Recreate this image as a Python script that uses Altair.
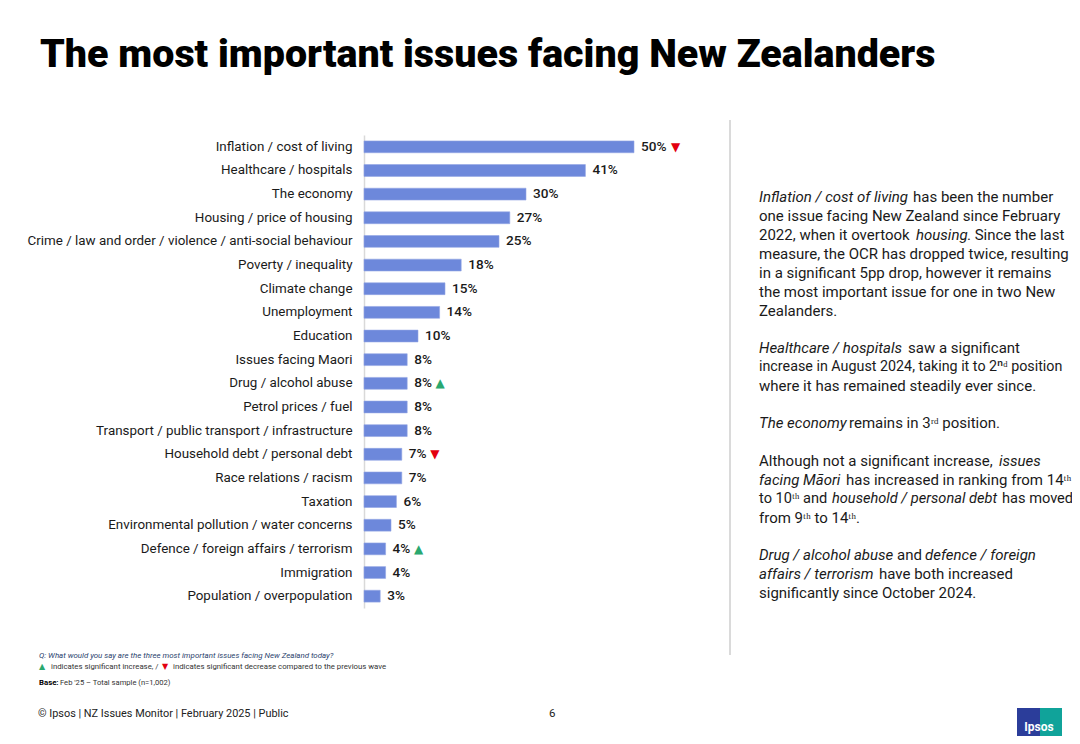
import altair as alt
import pandas as pd

# ---------------- data ----------------
issues = [
    "Inflation / cost of living",
    "Healthcare / hospitals",
    "The economy",
    "Housing / price of housing",
    "Crime / law and order / violence / anti-social behaviour",
    "Poverty / inequality",
    "Climate change",
    "Unemployment",
    "Education",
    "Issues facing Maori",
    "Drug / alcohol abuse",
    "Petrol prices / fuel",
    "Transport / public transport / infrastructure",
    "Household debt / personal debt",
    "Race relations / racism",
    "Taxation",
    "Environmental pollution / water concerns",
    "Defence / foreign affairs / terrorism",
    "Immigration",
    "Population / overpopulation",
]
values = [50, 41, 30, 27, 25, 18, 15, 14, 10, 8, 8, 8, 8, 7, 7, 6, 5, 4, 4, 3]
changes = ["down", "", "", "", "", "", "", "", "", "", "up", "", "", "down",
           "", "", "", "up", "", ""]

df = pd.DataFrame({"issue": issues, "value": values, "change": changes})
df["label"] = df["value"].astype(str) + "%"

# ---------------- style ----------------
F = "Roboto"
BAR = "#6d88db"
RED = "#e3000f"
GREEN = "#2aa86f"
TXT = "#1a1a1a"
OX, OY = 364, 135  # page position of plot origin

base = alt.Chart(df).encode(
    y=alt.Y(
        "issue:N", sort=issues,
        scale=alt.Scale(paddingInner=0.5, paddingOuter=0.25),
        axis=alt.Axis(title=None, ticks=False, labelPadding=12, labelFontSize=13.4,
                      labelColor=TXT, labelFont=F, domainColor="#d9d9d9",
                      domainWidth=1.5, labelLimit=500, grid=False),
    ),
    x=alt.X("value:Q", scale=alt.Scale(domain=[0, 50], nice=False), axis=None),
)

bars = base.mark_bar(color=BAR, stroke="#93a6e4", strokeWidth=0.6)
labels = base.mark_text(align="left", dx=7, fontSize=13.6, font=F, fontWeight=500,
                        color=TXT).encode(text="label:N")
tri_dx = alt.ExprRef(expr="length(datum.label) * 8.5 + 16")
tri_up = base.transform_filter("datum.change == 'up'").mark_text(
    text="▲", color=GREEN, fontSize=12, align="center", dx=tri_dx, font="DejaVu Sans")
tri_down = base.transform_filter("datum.change == 'down'").mark_text(
    text="▼", color=RED, fontSize=12, align="center", dx=tri_dx, font="DejaVu Sans")

one = alt.Data(values=[{}])


def txt(s, X, Y, size=14, italic=False, weight="normal", color=TXT, font=F,
        align="left", baseline="middle"):
    kw = dict(text=s, fontSize=size, fontWeight=weight, color=color, font=font,
              align=align, baseline=baseline)
    if italic:
        kw["fontStyle"] = "italic"
    return alt.Chart(one).mark_text(**kw).encode(
        x=alt.value(X - OX), y=alt.value(Y - OY))


layers = [bars, labels, tri_up, tri_down]

# title
layers.append(txt("The most important issues facing New Zealanders", 40, 67,
                  size=39.4, weight=900, color="#000000", baseline="alphabetic"))

# divider
layers.append(alt.Chart(one).mark_rule(color="#dadada", strokeWidth=2).encode(
    x=alt.value(730 - OX), y=alt.value(120 - OY), y2=alt.value(655 - OY)))

# right-hand commentary: (text, x, y, italic, size)
comment = [
    ("Inflation / cost of living", 759, 197, True, 15),
    ("has been the number", 913, 197, False, 15),
    ("one issue facing New Zealand since February", 759, 216, False, 15),
    ("2022, when it overtook", 759, 235, False, 15),
    ("housing", 916, 235, True, 15),
    (". Since the last", 967, 235, False, 15),
    ("measure, the OCR has dropped twice, resulting", 759, 254, False, 15),
    ("in a significant 5pp drop, however it remains", 759, 273, False, 15),
    ("the most important issue for one in two New", 759, 292, False, 15),
    ("Zealanders.", 759, 311, False, 15),
    ("Healthcare / hospitals", 759, 348, True, 15),
    ("saw a significant", 908, 348, False, 15),
    ("increase in August 2024, taking it to 2ⁿᵈ position", 759, 367, False, 14.3),
    ("where it has remained steadily ever since.", 759, 386, False, 15),
    ("The economy", 759, 423, True, 15),
    ("remains in 3ʳᵈ position.", 849, 423, False, 15),
    ("Although not a significant increase,", 759, 461, False, 15),
    ("issues", 999, 461, True, 15),
    ("facing Māori", 759, 480, True, 15),
    ("has increased in ranking from 14ᵗʰ", 846, 480, False, 15),
    ("to 10ᵗʰ and", 759, 499, False, 14.6),
    ("household / personal debt", 832, 499, True, 14.6),
    ("has moved", 1002, 499, False, 14.6),
    ("from 9ᵗʰ to 14ᵗʰ.", 759, 518, False, 15),
    ("Drug / alcohol abuse", 759, 555, True, 15),
    ("and", 897, 555, False, 15),
    ("defence / foreign", 925, 555, True, 15),
    ("affairs / terrorism", 759, 574, True, 15),
    ("have both increased", 879, 574, False, 15),
    ("significantly since October 2024.", 759, 593, False, 15),
]
for s, X, Y, it, sz in comment:
    layers.append(txt(s, X, Y, size=sz, italic=it))

# footnotes
layers.append(txt("Q: What would you say are the three most important issues facing New Zealand today?",
                  39, 656, size=7.9, italic=True, color="#2b3f6e"))
layers.append(txt("▲", 39, 667, size=8, color=GREEN, font="DejaVu Sans"))
layers.append(txt("indicates significant increase, /", 51, 667, size=7.8, color="#333333"))
layers.append(txt("▼", 162, 667, size=8, color=RED, font="DejaVu Sans"))
layers.append(txt("indicates significant decrease compared to the previous wave", 173, 667,
                  size=7.8, color="#333333"))
layers.append(txt("Base:", 39, 683, size=7.8, weight="bold", color="#000000"))
layers.append(txt("Feb '25 – Total sample (n=1,002)", 60, 683, size=7.6, color="#333333"))

# footer
layers.append(txt("© Ipsos | NZ Issues Monitor | February 2025 | Public", 38, 714,
                  size=10.9, color="#222222"))
layers.append(txt("6", 549, 714, size=11.5, color="#222222"))

# logo
layers.append(alt.Chart(one).mark_rect(color="#2b3d9a").encode(
    x=alt.value(1017 - OX), x2=alt.value(1040 - OX),
    y=alt.value(708 - OY), y2=alt.value(736 - OY)))
layers.append(alt.Chart(one).mark_rect(color="#10a39a").encode(
    x=alt.value(1040 - OX), x2=alt.value(1062 - OX),
    y=alt.value(708 - OY), y2=alt.value(736 - OY)))
layers.append(txt("Ipsos", 1039, 727, size=12, weight="bold", color="#ffffff",
                  align="center"))

chart = alt.layer(*layers).properties(
    width=270, height=473,
    autosize=alt.AutoSizeParams(type="none"),
    padding={"left": 356, "top": 127, "right": 438, "bottom": 128},
).configure_view(stroke=None)

chart.save("out.html", embed_options={"renderer": "svg", "actions": False})
